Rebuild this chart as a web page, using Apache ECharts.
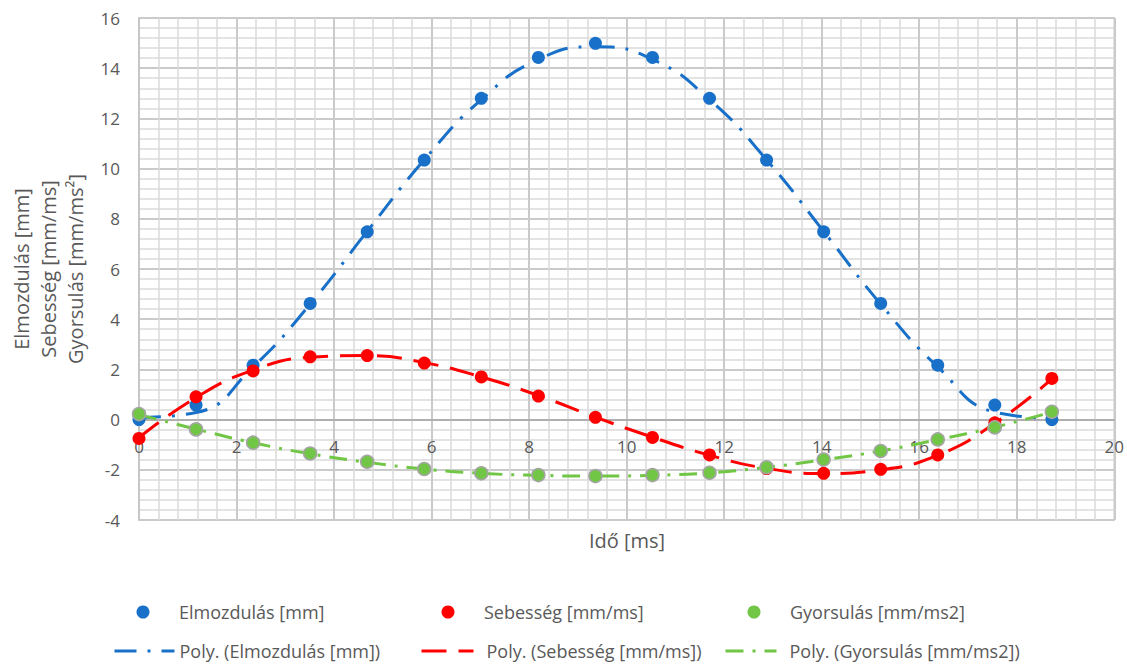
<!DOCTYPE html>
<html><head><meta charset="utf-8">
<script src="https://cdn.jsdelivr.net/npm/echarts@6/dist/echarts.min.js"></script>
<style>html,body{margin:0;padding:0;background:#fff}#c{width:1127px;height:664px}</style>
</head><body><div id="c"></div>
<script>
const times = [0, 1.17, 2.34, 3.51, 4.68, 5.85, 7.02, 8.19, 9.36, 10.53, 11.7, 12.87, 14.04, 15.21, 16.38, 17.55, 18.72];
const elmozdulas = [0, 0.58, 2.17, 4.63, 7.48, 10.34, 12.8, 14.43, 14.99, 14.43, 12.8, 10.34, 7.48, 4.63, 2.17, 0.58, 0];
const sebesseg = [-0.75, 0.91, 1.94, 2.5, 2.55, 2.25, 1.7, 0.94, 0.09, -0.71, -1.41, -1.95, -2.14, -1.98, -1.41, -0.13, 1.64];
const gyorsulas = [0.22, -0.39, -0.92, -1.35, -1.68, -1.97, -2.14, -2.21, -2.25, -2.21, -2.12, -1.9, -1.59, -1.25, -0.79, -0.31, 0.31];
const elmozdulasTrend = [0.08, 0.28, 2.1, 4.6, 7.5, 10.35, 12.75, 14.35, 14.85, 14.35, 12.75, 10.35, 7.5, 4.6, 2.1, 0.3, 0.05];
const sebessegTrend = [-0.72, 0.88, 1.97, 2.48, 2.55, 2.27, 1.7, 0.96, 0.1, -0.7, -1.42, -1.94, -2.15, -2.0, -1.42, -0.15, 1.62];
const gyorsulasTrend = [0.2, -0.38, -0.92, -1.36, -1.7, -1.97, -2.14, -2.22, -2.25, -2.22, -2.12, -1.9, -1.6, -1.25, -0.8, -0.3, 0.3];
const xTicks = {min: 0, max: 20, interval: 2};
const yTicks = {min: -4, max: 16, interval: 2};
const names = ['Elmozdulás [mm]', 'Sebesség [mm/ms]', 'Gyorsulás [mm/ms2]'];
const trendNames = ['Poly. (Elmozdulás [mm])', 'Poly. (Sebesség [mm/ms])', 'Poly. (Gyorsulás [mm/ms2])'];
const yName = 'Elmozdulás [mm]\nSebesség [mm/ms]\nGyorsulás [mm/ms²]';
const xName = 'Idő [ms]';

const FONT = '"Open Sans", sans-serif';
const TXT = '#595959';
const BLUE = '#1870c9', RED = '#ff0000', GREEN = '#72c645';
const pair = arr => times.map((t, i) => [t, arr[i]]);

const GRID_TOP = 18, GRID_BOTTOM = 144, H = 664;
const plotH = H - GRID_TOP - GRID_BOTTOM;
// shift x axis up so that it crosses the y axis at value 0
const xAxisOffset = -plotH * (0 - yTicks.min) / (yTicks.max - yTicks.min);

const chart = echarts.init(document.getElementById('c'), null, {renderer: 'svg'});

function legend(name, left, top, w, h, pad, hideSymbol) {
  const l = {
    data: [name], left: left, top: top, itemWidth: w, itemHeight: h, padding: 0,
    selectedMode: false,
    lineStyle: {width: 3},
    itemStyle: {borderWidth: 0},
    textStyle: {fontSize: 18, color: TXT, fontFamily: FONT, padding: [0, 0, 0, pad || 0]}
  };
  if (hideSymbol) l.itemStyle = {opacity: 0};
  return l;
}

chart.setOption({
  animation: false,
  backgroundColor: '#fff',
  textStyle: {fontFamily: FONT},
  grid: {left: 137, right: 10, top: GRID_TOP, bottom: GRID_BOTTOM, show: true, borderColor: '#c4c4c4', borderWidth: 1.5},
  xAxis: {
    type: 'value', min: xTicks.min, max: xTicks.max, interval: xTicks.interval,
    position: 'bottom', offset: xAxisOffset,
    axisLine: {show: true, onZero: false, lineStyle: {color: '#a6a6a6', width: 1.5}},
    axisTick: {show: false},
    minorTick: {show: false, splitNumber: 5},
    axisLabel: {fontSize: 17, color: TXT, fontFamily: FONT, margin: 18, showMaxLabel: true, showMinLabel: true},
    splitLine: {show: true, lineStyle: {color: '#cacaca', width: 2}},
    minorSplitLine: {show: true, lineStyle: {color: '#dadada', width: 1.5}}
  },
  yAxis: {
    type: 'value', min: yTicks.min, max: yTicks.max, interval: yTicks.interval,
    name: yName, nameLocation: 'middle', nameGap: 50, nameRotate: 90,
    nameTextStyle: {fontSize: 20, lineHeight: 27, color: TXT, fontFamily: FONT, align: 'center'},
    axisLine: {show: true, onZero: false, lineStyle: {color: '#c4c4c4', width: 1.5}},
    axisTick: {show: false},
    minorTick: {show: false, splitNumber: 5},
    axisLabel: {fontSize: 17, color: TXT, fontFamily: FONT, margin: 19},
    splitLine: {show: true, lineStyle: {color: '#cacaca', width: 2}},
    minorSplitLine: {show: true, lineStyle: {color: '#dadada', width: 1.5}}
  },
  graphic: [{
    type: 'text', x: 627, y: 540, z: 10,
    style: {text: xName, fontSize: 20, fill: TXT, fontFamily: FONT, align: 'center', verticalAlign: 'middle'}
  }],
  legend: [
    legend(names[0], 136.5, 603, 62, 13),
    legend(names[1], 441.5, 603, 62, 13),
    legend(names[2], 747.5, 603, 62, 13),
    legend(trendNames[0], 113, 642, 60, 13, 0, true),
    legend(trendNames[1], 420, 642, 52, 13, 8, true),
    legend(trendNames[2], 724, 642, 51, 13, 8, true)
  ],
  series: [
    {name: trendNames[0], type: 'line', data: pair(elmozdulasTrend), smooth: 0.5, showSymbol: false, symbol: 'none', z: 2,
     lineStyle: {color: BLUE, width: 3, type: [22, 11, 3, 11], cap: 'butt'}, itemStyle: {color: BLUE}},
    {name: trendNames[1], type: 'line', data: pair(sebessegTrend), smooth: 0.5, showSymbol: false, symbol: 'none', z: 2,
     lineStyle: {color: RED, width: 3, type: [25, 12], cap: 'butt'}, itemStyle: {color: RED}},
    {name: trendNames[2], type: 'line', data: pair(gyorsulasTrend), smooth: 0.5, showSymbol: false, symbol: 'none', z: 2,
     lineStyle: {color: GREEN, width: 3, type: [18, 9, 3, 9], cap: 'butt'}, itemStyle: {color: GREEN}},
    {name: names[0], type: 'scatter', data: pair(elmozdulas), symbol: 'circle', symbolSize: 13, z: 3,
     itemStyle: {color: BLUE, opacity: 1}},
    {name: names[1], type: 'scatter', data: pair(sebesseg), symbol: 'circle', symbolSize: 13, z: 3,
     itemStyle: {color: RED, opacity: 1}},
    {name: names[2], type: 'scatter', data: pair(gyorsulas), symbol: 'circle', symbolSize: 13, z: 3,
     itemStyle: {color: GREEN, borderColor: '#a5a5a5', borderWidth: 1.5, opacity: 1}}
  ]
});
</script>
</body></html>
